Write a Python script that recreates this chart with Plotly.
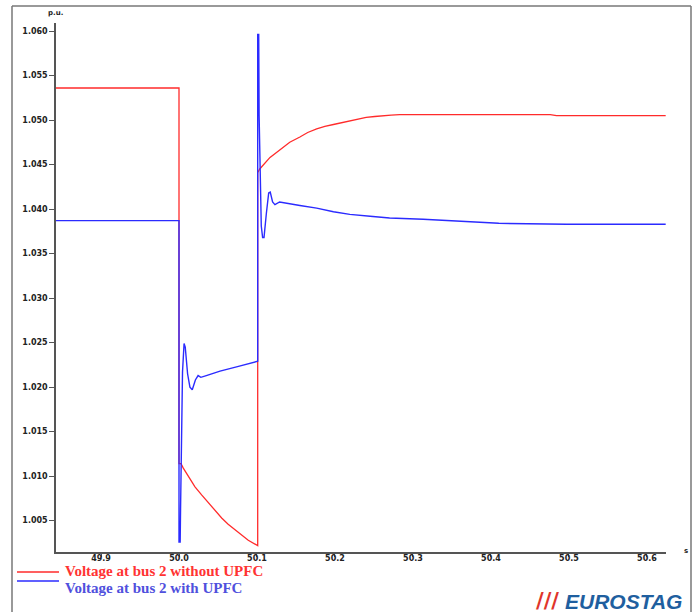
import plotly.graph_objects as go

# ---- data (time in s, voltage in p.u.) ----
t_without = [49.842, 50.0, 50.0, 50.0026, 50.0055, 50.0130, 50.0205, 50.0290, 50.0376, 50.0460,
             50.0547, 50.0630, 50.0718, 50.0800, 50.0888, 50.1009,
             50.1009, 50.1035, 50.110, 50.1167, 50.130, 50.142, 50.155, 50.165, 50.1765, 50.187,
             50.198, 50.208, 50.219, 50.230, 50.240, 50.251, 50.262, 50.272, 50.283, 50.476,
             50.484, 50.624]
v_without = [1.0536, 1.0536, 1.0114, 1.0114, 1.0109, 1.0098, 1.0088, 1.0079, 1.0070, 1.0061,
             1.0053, 1.0046, 1.0040, 1.0034, 1.0028, 1.0022,
             1.0441, 1.0445, 1.0452, 1.0458, 1.0467, 1.0475, 1.0481, 1.0486, 1.0490, 1.0493,
             1.0495, 1.0497, 1.04995, 1.0501, 1.0503, 1.0504, 1.0505, 1.05055, 1.0506, 1.0506,
             1.0505, 1.0505]

t_with = [49.842, 50.0, 50.0, 50.0015, 50.002, 50.003, 50.0045, 50.0065, 50.008, 50.011, 50.014,
          50.017, 50.021, 50.0245, 50.028, 50.035, 50.0526, 50.075, 50.1009,
          50.1009, 50.1022, 50.1027, 50.1040, 50.1055, 50.1072, 50.109, 50.112, 50.115, 50.117,
          50.120, 50.123, 50.129, 50.155, 50.1765, 50.198, 50.219, 50.245, 50.27, 50.313,
          50.368, 50.41, 50.497, 50.624]
v_with = [1.0387, 1.0387, 1.0026, 1.0026, 1.0063, 1.0150, 1.0217, 1.0249, 1.0245, 1.0215, 1.0200,
          1.0197, 1.0208, 1.0213, 1.0211, 1.0213, 1.0218, 1.0223, 1.0229,
          1.0596, 1.0596, 1.0506, 1.0432, 1.0381, 1.0368, 1.0368, 1.0395, 1.0418, 1.0419,
          1.0408, 1.0405, 1.0408, 1.0404, 1.0401, 1.0397, 1.0394, 1.0392, 1.0390, 1.03886,
          1.0386, 1.0384, 1.0383, 1.0383]

x_ticks = [49.9, 50.0, 50.1, 50.2, 50.3, 50.4, 50.5, 50.6]
x_tick_labels = ["49.9", "50.0", "50.1", "50.2", "50.3", "50.4", "50.5", "50.6"]
y_ticks = [1.005, 1.010, 1.015, 1.020, 1.025, 1.030, 1.035, 1.040, 1.045, 1.050, 1.055, 1.060]
y_tick_labels = ["1.005", "1.010", "1.015", "1.020", "1.025", "1.030", "1.035", "1.040",
                 "1.045", "1.050", "1.055", "1.060"]

name_without = "Voltage at bus 2 without UPFC"
name_with = "Voltage at bus 2 with UPFC"

RED = "#ff2b2b"
BLUE = "#2b2bff"

W, H = 697, 612
ML, MR, MT, MB = 56, 31, 23, 60
PW, PH = W - ML - MR, H - MT - MB


def px(xp):
    return (xp - ML) / PW


def py(yp):
    return (H - MB - yp) / PH


fig = go.Figure()
fig.add_trace(go.Scatter(x=t_without, y=v_without, mode="lines", name=name_without,
                         line=dict(color=RED, width=1.3), showlegend=False))
fig.add_trace(go.Scatter(x=t_with, y=v_with, mode="lines", name=name_with,
                         line=dict(color=BLUE, width=1.4), showlegend=False))

tickfont = dict(family="DejaVu Sans", size=8, color="#222222", weight="bold")

fig.update_layout(
    width=W, height=H,
    margin=dict(l=ML, r=MR, t=MT, b=MB),
    paper_bgcolor="white", plot_bgcolor="white",
    xaxis=dict(range=[49.8423, 50.6244], tickvals=x_ticks, ticktext=x_tick_labels,
               showgrid=False, zeroline=False, showline=True, linecolor="#555555", linewidth=1.5,
               ticks="outside", ticklen=3, tickcolor="#555555", tickfont=tickfont,
               ticklabelstandoff=-5),
    yaxis=dict(range=[1.00148, 1.0609], tickvals=y_ticks, ticktext=y_tick_labels,
               showgrid=False, zeroline=False, showline=True, linecolor="#555555", linewidth=1.5,
               ticks="outside", ticklen=5, tickcolor="#555555", tickfont=tickfont),
    showlegend=False,
)

shapes = []
# outer frame (left, top, right)
frame = dict(type="line", xref="paper", yref="paper", line=dict(color="#777777", width=1.5))
shapes.append(dict(frame, x0=px(12), x1=px(12), y0=py(6), y1=py(615)))
shapes.append(dict(frame, x0=px(12), x1=px(691), y0=py(6), y1=py(6)))
shapes.append(dict(frame, x0=px(691), x1=px(691), y0=py(6), y1=py(615)))
# legend samples
shapes.append(dict(type="line", xref="paper", yref="paper", x0=px(17), x1=px(59),
                   y0=py(572), y1=py(572), line=dict(color=RED, width=1.3)))
shapes.append(dict(type="line", xref="paper", yref="paper", x0=px(17), x1=px(59),
                   y0=py(581), y1=py(581), line=dict(color=BLUE, width=1.3)))
fig.update_layout(shapes=shapes)

legfont = dict(family="Liberation Serif", size=15, weight="bold")
ann = [
    dict(text=name_without, x=px(63), y=py(571), xanchor="left", yanchor="middle",
         font=dict(legfont, color="#ff3333")),
    dict(text=name_with, x=px(63), y=py(588), xanchor="left", yanchor="middle",
         font=dict(legfont, color="#5050dd")),
    dict(text="p.u.", x=px(55), y=py(13), xanchor="center", yanchor="middle",
         font=dict(family="DejaVu Sans", size=7, color="#222222", weight="bold")),
    dict(text="s", x=px(686), y=py(551), xanchor="center", yanchor="middle",
         font=dict(family="DejaVu Sans", size=7, color="#222222", weight="bold")),
    dict(text="///", x=px(561), y=py(601), xanchor="right", yanchor="middle",
         font=dict(family="DejaVu Sans", size=21, weight="bold", color="#e0352b")),
    dict(text="EUROSTAG", x=px(684), y=py(601), xanchor="right", yanchor="middle",
         font=dict(family="Liberation Sans", size=21, weight="bold", style="italic",
                   color="#1f5f9f")),
]
for a in ann:
    a.update(xref="paper", yref="paper", showarrow=False)
fig.update_layout(annotations=ann)

fig.write_html("out.html", config={"displayModeBar": False},
               post_script="document.body.style.margin='0';document.body.style.overflow='hidden';")
